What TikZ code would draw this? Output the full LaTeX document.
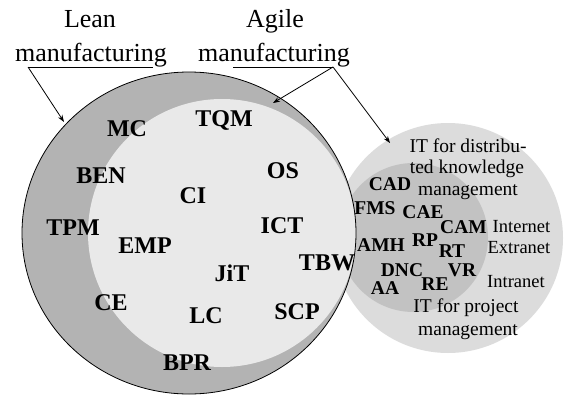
\documentclass[tikz,border=0pt]{standalone}
\usepackage{fontspec}
\setmainfont{Liberation Serif}
\usetikzlibrary{arrows.meta}
\definecolor{ringgray}{HTML}{B3B3B3}
\definecolor{agilegray}{HTML}{E9E9E9}
\definecolor{itouter}{HTML}{DCDCDC}
\definecolor{itinner}{HTML}{C2C2C2}
\tikzset{
  bigt/.style={font=\fontsize{24}{28}\selectfont\bfseries, inner sep=0pt, text height=16pt, text depth=0pt},
  smt/.style={font=\fontsize{19.5}{22}\selectfont\bfseries, inner sep=0pt, text height=13pt, text depth=0pt},
  headt/.style={font=\fontsize{26}{30}\selectfont, inner sep=0pt, anchor=base},
  regt/.style={font=\fontsize{19.5}{22}\selectfont, inner sep=0pt, anchor=base},
  nett/.style={font=\fontsize{18.5}{22}\selectfont, inner sep=0pt, anchor=base},
  conn/.style={draw=black, line width=0.8pt},
  arr/.style={conn, -{Stealth[length=7pt,width=5pt]}}
}
\begin{document}
\begin{tikzpicture}[x=1pt,y=-1pt]
\useasboundingbox (0,0) rectangle (564,396);
\fill[white] (0,0) rectangle (564,396);
% IT circles
\fill[itouter] (448,238) circle[radius=115];
\fill[itinner] (413.5,237.5) circle[radius=74.5];
% Lean manufacturing circle
\fill[ringgray] (189,233) circle[x radius=167, y radius=161];
% Agile manufacturing circle
\fill[agilegray] (222,233) circle[radius=134];
\draw[line width=0.8pt] (189,233) circle[x radius=167, y radius=161];

% headings
\node[headt] (lean1) at (90,28) {Lean};
\node[headt] (lean2) at (91,62) {manufacturing};
\node[headt] (agile1) at (275,28) {Agile};
\node[headt] (agile2) at (274,62) {manufacturing};

\coordinate (leanA) at (153,67);
\coordinate (leanB) at (28,67);
\coordinate (leantip) at (64,122);
\coordinate (agileA) at (233,67);
\coordinate (agileB) at (333,67);
\coordinate (agiletip) at (273,103);
\coordinate (ittip) at (390,143);

\draw[conn] (leanA) -- (leanB);
\draw[arr] (leanB) -- (leantip);
\draw[conn] (agileA) -- (agileB);
\draw[arr] (agileB) -- (agiletip);
\draw[arr] (agileB) -- (ittip);

% labels in the big circle
\node[bigt] (mc) at (127,128) {MC};
\node[bigt] (tqm) at (224,118) {TQM};
\node[bigt] (ben) at (101,175) {BEN};
\node[bigt] (os) at (283,170) {OS};
\node[bigt] (ci) at (193,195) {CI};
\node[bigt] (tpm) at (73,227) {TPM};
\node[bigt] (ict) at (282,225) {ICT};
\node[bigt] (emp) at (145,245) {EMP};
\node[bigt] (tbw) at (327,262) {TBW};
\node[bigt] (jit) at (232,273) {JiT};
\node[bigt] (ce) at (111,302) {CE};
\node[bigt] (lc) at (206,315) {LC};
\node[bigt] (scp) at (297,311) {SCP};
\node[bigt] (bpr) at (187,362) {BPR};

% labels in the IT circle
\node[smt] (cad) at (390,183.5) {CAD};
\node[smt] (fms) at (375,208) {FMS};
\node[smt] (cae) at (423,212) {CAE};
\node[smt] (cam) at (463.5,227) {CAM};
\node[smt] (amh) at (381,245) {AMH};
\node[smt] (rp) at (425,240) {RP};
\node[smt] (rt) at (452,251) {RT};
\node[smt] (dnc) at (402,270) {DNC};
\node[smt] (vr) at (462,270) {VR};
\node[smt] (aa) at (385,288) {AA};
\node[smt] (re) at (435,284) {RE};

\node[regt] (itd1) at (468,152) {IT for distribu-};
\node[regt] (itd2) at (467,173) {ted knowledge};
\node[regt] (itd3) at (468,195) {management};
\node[nett] (inet) at (521.5,232) {Internet};
\node[nett] (extra) at (519,253) {Extranet};
\node[nett] (intra) at (516,287) {Intranet};
\node[regt] (itp1) at (466,312) {IT for project};
\node[regt] (itp2) at (468,335) {management};
\end{tikzpicture}
\end{document}
